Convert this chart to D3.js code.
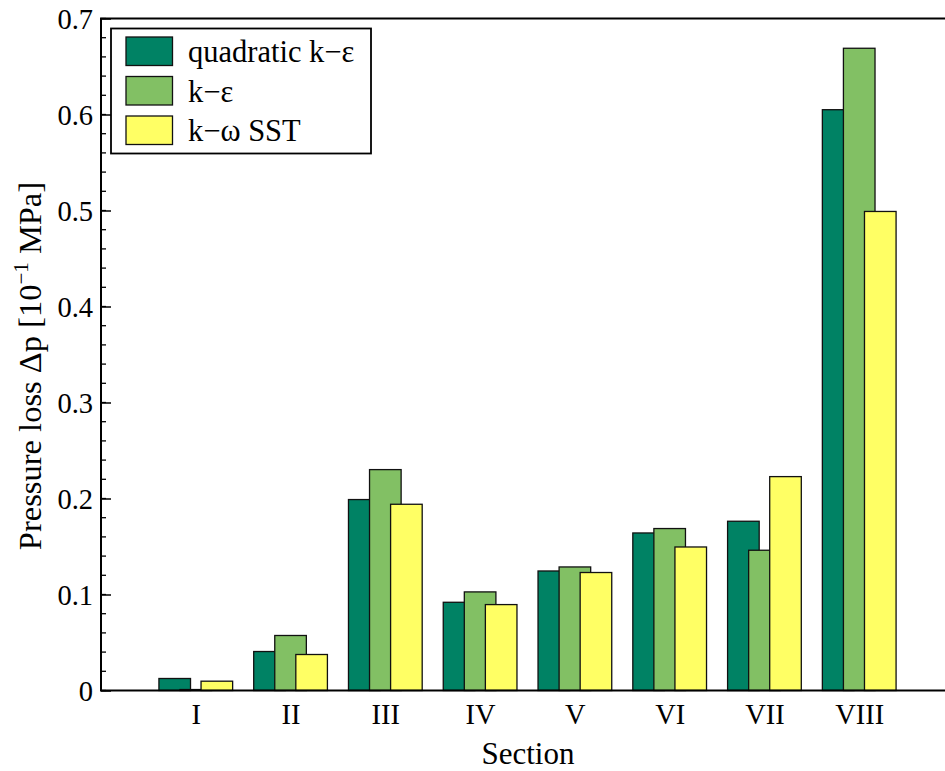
<!DOCTYPE html>
<html>
<head>
<meta charset="utf-8">
<script src="https://cdn.jsdelivr.net/npm/d3@7"></script>
<style>
  html, body { margin: 0; padding: 0; background: #fff; }
  svg { display: block; font-family: "Liberation Serif", "Times New Roman", serif; }
</style>
</head>
<body>
<svg id="chart" width="945" height="771"></svg>
<script>
const sections = ["I", "II", "III", "IV", "V", "VI", "VII", "VIII"];
const seriesNames = ["quadratic k\u2212\u03b5", "k\u2212\u03b5", "k\u2212\u03c9 SST"];
const quadraticKE = [0.0125, 0.0406, 0.1989, 0.0919, 0.1245, 0.1641, 0.1763, 0.605];
const standardKE  = [0.001, 0.0573, 0.2301, 0.1027, 0.1287, 0.1687, 0.1461, 0.669];
const kOmegaSST   = [0.0097, 0.0375, 0.194, 0.0895, 0.1229, 0.1495, 0.2228, 0.499];
const yTicks = [0, 0.1, 0.2, 0.3, 0.4, 0.5, 0.6, 0.7];
const yTickLabels = ["0", "0.1", "0.2", "0.3", "0.4", "0.5", "0.6", "0.7"];
const colors = ["#008264", "#82c064", "#ffff64"];

(function () {
const series = [quadraticKE, standardKE, kOmegaSST];
const svg = d3.select("#chart");
const pL = 101, pT = 18.5, pB = 690.5, pR = 954;

const x = d3.scaleLinear().domain([0, sections.length + 1]).range([pL, pR]);
const y = d3.scaleLinear().domain([0, 0.7]).range([pB, pT]);

const barStep = 2 / 9, barW = 1 / 3, groupHalf = (2 * barStep + barW) / 2;

// bars
series.forEach((vals, j) => {
  svg.append("g").selectAll("rect")
    .data(vals)
    .join("rect")
    .attr("x", (d, i) => x(i + 1 - groupHalf + j * barStep))
    .attr("width", x(barW) - x(0))
    .attr("y", d => y(d))
    .attr("height", d => y(0) - y(d))
    .attr("fill", colors[j])
    .attr("stroke", "#111")
    .attr("stroke-width", 1.3);
});

// y axis minor ticks
const minorTicks = d3.range(0, 0.7001, 0.02);
svg.append("g").selectAll("line")
  .data(minorTicks)
  .join("line")
  .attr("x1", pL).attr("x2", pL + 5)
  .attr("y1", d => y(d)).attr("y2", d => y(d))
  .attr("stroke", "#000").attr("stroke-width", 1.3);

const yAxis = d3.axisRight(y).tickValues(yTicks).tickSize(10).tickFormat((d, i) => yTickLabels[i]);
const gy = svg.append("g").attr("transform", `translate(${pL},0)`).call(yAxis);
gy.select(".domain").remove();
gy.selectAll(".tick line").attr("stroke", "#000").attr("stroke-width", 1.5);
gy.selectAll(".tick text")
  .attr("x", -8).attr("dy", "0.34em")
  .attr("text-anchor", "end")
  .attr("font-size", 28.5).attr("fill", "#000")
  .attr("font-family", "Liberation Serif, serif");

// x axis labels
const xAxis = d3.axisBottom(x).tickValues(d3.range(1, sections.length + 1)).tickSize(0)
  .tickFormat(d => sections[d - 1]);
const gx = svg.append("g").attr("transform", `translate(0,${pB})`).call(xAxis);
gx.select(".domain").remove();
gx.selectAll(".tick text")
  .attr("y", 0).attr("dy", 0)
  .attr("transform", "translate(0,33.5)")
  .attr("font-size", 28.5).attr("fill", "#000")
  .attr("font-family", "Liberation Serif, serif");

// spines
svg.append("line").attr("x1", pL).attr("x2", pL).attr("y1", pT).attr("y2", pB)
  .attr("stroke", "#000").attr("stroke-width", 2);
svg.append("line").attr("x1", pL - 1).attr("x2", 945).attr("y1", pB).attr("y2", pB)
  .attr("stroke", "#000").attr("stroke-width", 2);
svg.append("line").attr("x1", pL - 1).attr("x2", 945).attr("y1", pT).attr("y2", pT)
  .attr("stroke", "#000").attr("stroke-width", 2);

// axis titles
svg.append("text")
  .attr("x", 528).attr("y", 764)
  .attr("text-anchor", "middle").attr("font-size", 31)
  .text("Section");

const yl = svg.append("text")
  .attr("transform", `translate(41,366) rotate(-90)`)
  .attr("text-anchor", "middle").attr("font-size", 32.5);
yl.append("tspan").text("Pressure loss \u0394p [10");
yl.append("tspan").attr("font-size", 21).attr("dy", -13).text("\u22121");
yl.append("tspan").attr("dy", 13).text(" MPa]");

// legend
const lg = svg.append("g");
lg.append("rect").attr("x", 111).attr("y", 28.5).attr("width", 260).attr("height", 125)
  .attr("fill", "#fff").attr("stroke", "#000").attr("stroke-width", 1.8);
seriesNames.forEach((name, j) => {
  const yy = 37 + j * 39.5;
  lg.append("rect").attr("x", 126).attr("y", yy).attr("width", 46.5).attr("height", 28.5)
    .attr("fill", colors[j]).attr("stroke", "#111").attr("stroke-width", 1.3);
  lg.append("text").attr("x", 188).attr("y", 62.3 + j * 39.2).attr("font-size", 30.5).text(name);
});
})();
</script>
</body>
</html>
